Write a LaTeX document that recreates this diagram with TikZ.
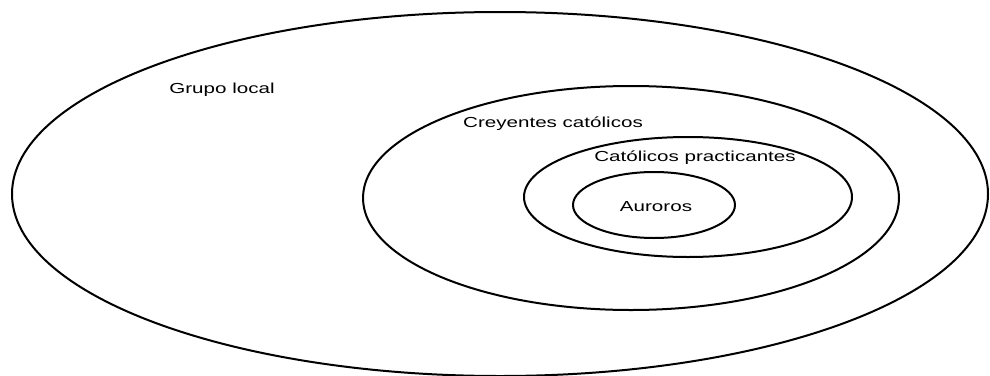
\documentclass[tikz,border=0pt]{standalone}
\usepackage{fontspec}
\setmainfont[FakeStretch=1.42]{Liberation Sans}
\usetikzlibrary{shapes.geometric}
\begin{document}
\begin{tikzpicture}[x=1pt,y=-1pt,
    ring/.style={draw,ellipse,line width=2pt,inner sep=0pt,outer sep=0pt},
    tag/.style={font=\fontsize{14.5}{16}\selectfont,inner sep=0pt}]
      \useasboundingbox (0,0) rectangle (990,375);
      \def \Rings{
        grupo/500/194/488/182,
        creyentes/631/198/268/112,
        practicantes/688/197/164/60,
        auroros/654/205/81/33}
      \def \Tags{
        grupo/222/90/Grupo local,
        creyentes/553/124/Creyentes católicos,
        practicantes/695/158/Católicos practicantes,
        auroros/656/207/Auroros}
      \foreach \id / \x / \y / \rx / \ry in \Rings{
        \node[ring,minimum width=2*\rx pt,minimum height=2*\ry pt] (\id) at (\x, \y) {};
      }
      \foreach \id / \x / \y / \t in \Tags{
        \node[tag] (\id-tag) at (\x, \y) {\t};
      }
    \end{tikzpicture}
\end{document}
